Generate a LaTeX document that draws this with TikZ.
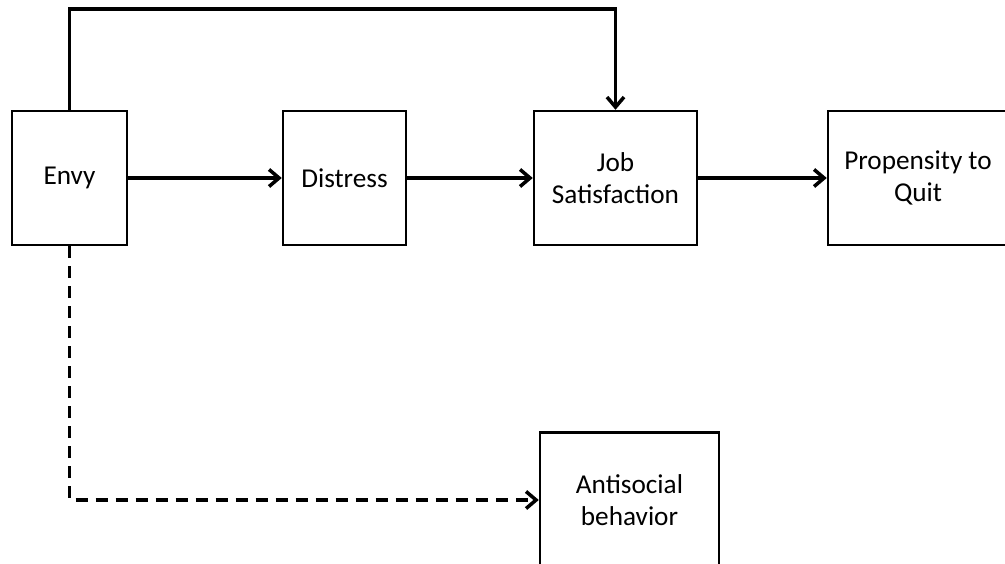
\documentclass[tikz,border=0pt]{standalone}
\usepackage{fontspec}
\setmainfont{Carlito}
\usetikzlibrary{arrows.meta,positioning}
\tikzset{
  factor/.style={draw, line width=1.4pt, align=center, inner sep=0pt,
    minimum height=26.8mm, font=\fontsize{15.5}{18}\selectfont},
  link/.style={line width=2pt, -{Straight Barb[length=2mm,width=3.4mm]}},
  weak/.style={link, dash pattern=on 2.4mm off 1.6mm},
}
\begin{document}
\begin{tikzpicture}[x=0.2mm,y=-0.2mm]
  \clip (0,0) rectangle (1005,564);

  \node[factor, minimum width=23mm] (envy) at (69.5,178) {Envy};
  \node[factor, minimum width=24.6mm] (distress) at (344.5,178) {Distress};
  \node[factor, minimum width=32.6mm] (job) at (615.5,178) {Job\\Satisfaction};
  \node[factor, minimum width=36mm] (quit) at (918,178) {Propensity to\\Quit};
  \node[factor, minimum width=35.8mm, minimum height=27mm] (anti) at (629.5,500) {Antisocial\\behavior};

  \coordinate (loop) at (69.5,9);

  \draw[link] (envy) -- (distress);
  \draw[link] (distress) -- (job);
  \draw[link] (job) -- (quit);
  \draw[link] (envy.north) -- (loop) -| (job.north);
  \draw[weak] (envy.south) |- (anti.west);
\end{tikzpicture}
\end{document}
